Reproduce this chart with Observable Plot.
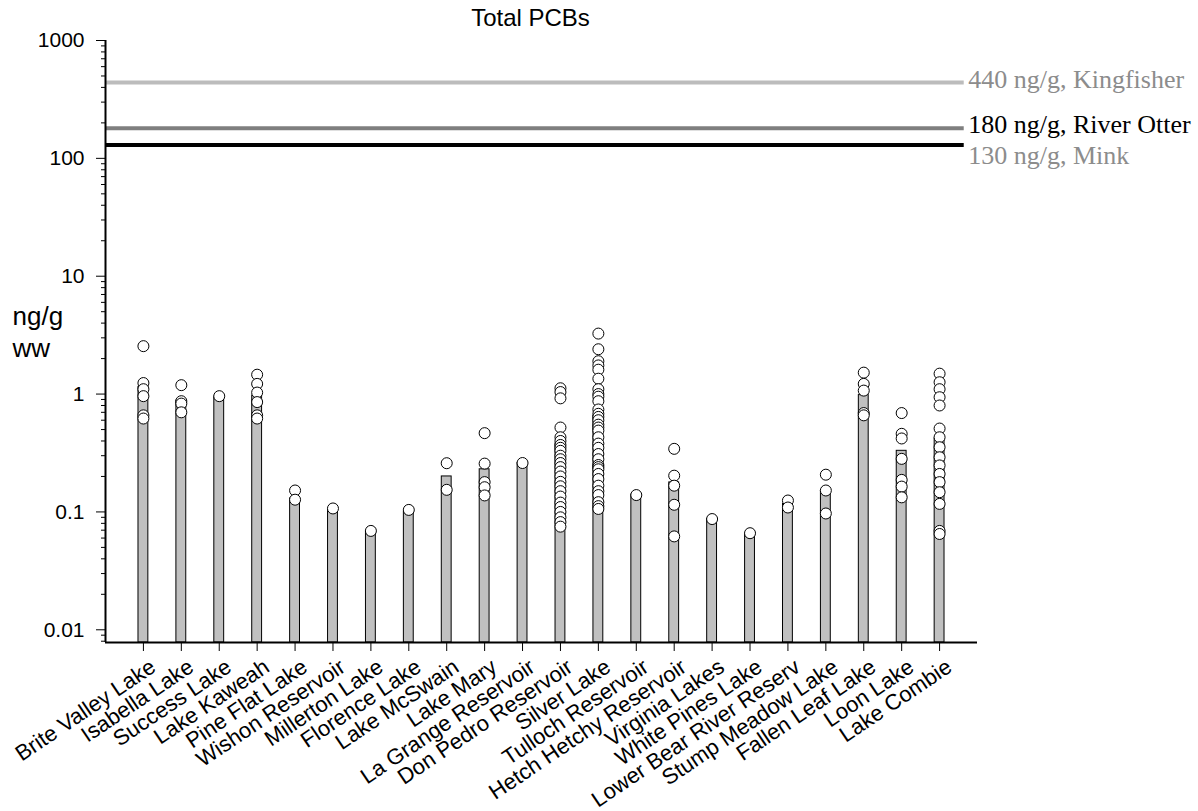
<!DOCTYPE html>
<html>
<head>
<meta charset="utf-8">
<script src="https://cdn.jsdelivr.net/npm/d3@7"></script>
<script src="https://cdn.jsdelivr.net/npm/@observablehq/plot@0.6"></script>
<style>
  html, body { margin: 0; padding: 0; background: #fff; }
  svg { display: block; }
</style>
</head>
<body>
<div id="chart"></div>
<script>
const title = "Total PCBs";
const yLabel = "ng/g\nww";

const lakes = [
  "Brite Valley Lake", "Isabella Lake", "Success Lake", "Lake Kaweah", "Pine Flat Lake",
  "Wishon Reservoir", "Millerton Lake", "Florence Lake", "Lake McSwain", "Lake Mary",
  "La Grange Reservoir", "Don Pedro Reservoir", "Silver Lake", "Tulloch Reservoir",
  "Hetch Hetchy Reservoir", "Virginia Lakes", "White Pines Lake", "Lower Bear River Reserv",
  "Stump Meadow Lake", "Fallen Leaf Lake", "Loon Lake", "Lake Combie"
];

// bar heights (ng/g ww)
const barMeans = [
  1.15, 0.88, 0.95, 0.97, 0.13,
  0.105, 0.068, 0.10, 0.20, 0.23,
  0.26, 0.38, 0.65, 0.14,
  0.178, 0.087, 0.065, 0.117,
  0.15, 0.98, 0.33, 0.42
];

// individual samples per lake (ng/g ww)
const samples = [
  [2.55, 1.24, 1.10, 0.96, 0.66, 0.62],
  [1.19, 0.87, 0.83, 0.70],
  [0.96],
  [1.46, 1.22, 1.03, 0.855, 0.66, 0.62],
  [0.152, 0.127],
  [0.107],
  [0.069],
  [0.104],
  [0.259, 0.154],
  [0.466, 0.257, 0.179, 0.162, 0.138],
  [0.26],
  [1.12, 1.04, 0.92, 0.52, 0.43, 0.40, 0.37, 0.35, 0.33, 0.30, 0.28, 0.26, 0.24, 0.22, 0.20, 0.18, 0.165, 0.15, 0.135, 0.12, 0.11, 0.10, 0.09, 0.082, 0.075],
  [3.26, 2.40, 1.90, 1.75, 1.61, 1.35, 1.10, 1.0, 0.95, 0.87, 0.74, 0.68, 0.64, 0.60, 0.55, 0.52, 0.49, 0.43, 0.38, 0.35, 0.31, 0.28, 0.25, 0.24, 0.23, 0.21, 0.19, 0.167, 0.15, 0.139, 0.121, 0.112, 0.106],
  [0.139],
  [0.343, 0.203, 0.167, 0.115, 0.062],
  [0.087],
  [0.066],
  [0.125, 0.109],
  [0.207, 0.152, 0.097],
  [1.52, 1.22, 1.07, 0.69, 0.66],
  [0.69, 0.46, 0.42, 0.282, 0.187, 0.164, 0.133],
  [1.49, 1.26, 1.10, 0.94, 0.80, 0.51, 0.43, 0.354, 0.291, 0.248, 0.21, 0.179, 0.147, 0.117, 0.069, 0.065]
];

const thresholdValues = [440, 180, 130];
const thresholdLabels = ["440 ng/g, Kingfisher", "180 ng/g, River Otter", "130 ng/g, Mink"];
const thresholdColors = ["#bcbcbc", "#7f7f7f", "#000000"];
const thresholdLabelColors = ["#8c8c8c", "#000000", "#8c8c8c"];
const thresholdAnchors = ["bottom", "bottom", "top"];

const yTicks = [0.01, 0.1, 1, 10, 100, 1000];
const yTickLabels = ["0.01", "0.1", "1", "10", "100", "1000"];

// ---- derived tables ----
const yMin = 0.0078, yMax = 1000;
const xMin = -1, xMax = 22, lineEnd = 21.65;
const barHalf = 0.13;

const bars = lakes.map((name, i) => ({i, name, v: barMeans[i]}));
const points = samples.flatMap((arr, i) => arr.map(v => ({i, v})));
const thresholds = thresholdValues.map((v, k) => ({
  v, label: thresholdLabels[k], color: thresholdColors[k],
  labelColor: thresholdLabelColors[k], anchor: thresholdAnchors[k]
}));
const yTickRows = yTicks.map((v, k) => ({v, label: yTickLabels[k]}));
const minorTicks = [];
for (let e = -3; e < 3; e++) for (let m = 2; m <= 9; m++) {
  const t = m * Math.pow(10, e);
  if (t >= yMin && t <= yMax) minorTicks.push(t);
}

const sans = "'Liberation Sans', Arial, sans-serif";
const serif = "'Liberation Serif', 'Times New Roman', serif";

const chart = Plot.plot({
  width: 1198,
  height: 811,
  marginLeft: 105,
  marginRight: 221,
  marginTop: 40,
  marginBottom: 169,
  style: {fontFamily: sans, background: "#fff", color: "#000", overflow: "visible"},
  x: {type: "linear", domain: [xMin, xMax], axis: null, label: null},
  y: {type: "log", domain: [yMin, yMax], axis: null, label: null},
  marks: [
    // threshold lines
    ...thresholds.map(t => Plot.ruleY([t], {
      y: "v", x1: xMin, x2: lineEnd, stroke: t.color, strokeWidth: 4
    })),
    ...thresholds.map(t => Plot.text([t], {
      y: "v", x: lineEnd, text: "label", dx: 4, textAnchor: "start",
      lineAnchor: t.anchor, dy: t.anchor === "bottom" ? 5 : 1,
      fill: t.labelColor, fontSize: 26, fontFamily: serif
    })),
    // bars
    Plot.rect(bars, {
      x1: d => d.i - barHalf, x2: d => d.i + barHalf,
      y1: yMin, y2: "v",
      fill: "#c0c0c0", stroke: "#000", strokeWidth: 1
    }),
    // samples
    Plot.dot(points, {x: "i", y: "v", r: 5.5, fill: "#fff", stroke: "#000", strokeWidth: 1}),
    // axes frame
    Plot.ruleX([xMin], {stroke: "#000", strokeWidth: 2}),
    Plot.ruleY([yMin], {stroke: "#000", strokeWidth: 2}),
    // y axis ticks
    Plot.axisY({ticks: yTicks, tickFormat: () => "", tickSize: 9, anchor: "left", label: null}),
    Plot.axisY({ticks: minorTicks, tickFormat: () => "", tickSize: 4, anchor: "left", label: null}),
    Plot.text(yTickRows, {y: "v", text: "label", frameAnchor: "left", dx: -21, textAnchor: "end", fontSize: 21}),
    // x axis ticks
    Plot.axisX({ticks: lakes.map((_, i) => i), tickFormat: () => "", tickSize: 9, anchor: "bottom", label: null}),
    // x tick labels
    Plot.text(bars, {
      x: "i", text: "name", frameAnchor: "bottom", dy: 15, dx: 5,
      rotate: -34, textAnchor: "end", lineAnchor: "top", fontSize: 22
    }),
    // title
    Plot.text([title], {frameAnchor: "top", dy: -22, dx: -11, lineAnchor: "middle", fontSize: 24, text: d => d}),
    // y label
    Plot.text([yLabel], {frameAnchor: "top-left", dx: -93, dy: 261, textAnchor: "start", lineAnchor: "top", fontSize: 26, lineHeight: 1.25, text: d => d})
  ]
});

document.getElementById("chart").appendChild(chart);
</script>
</body>
</html>
